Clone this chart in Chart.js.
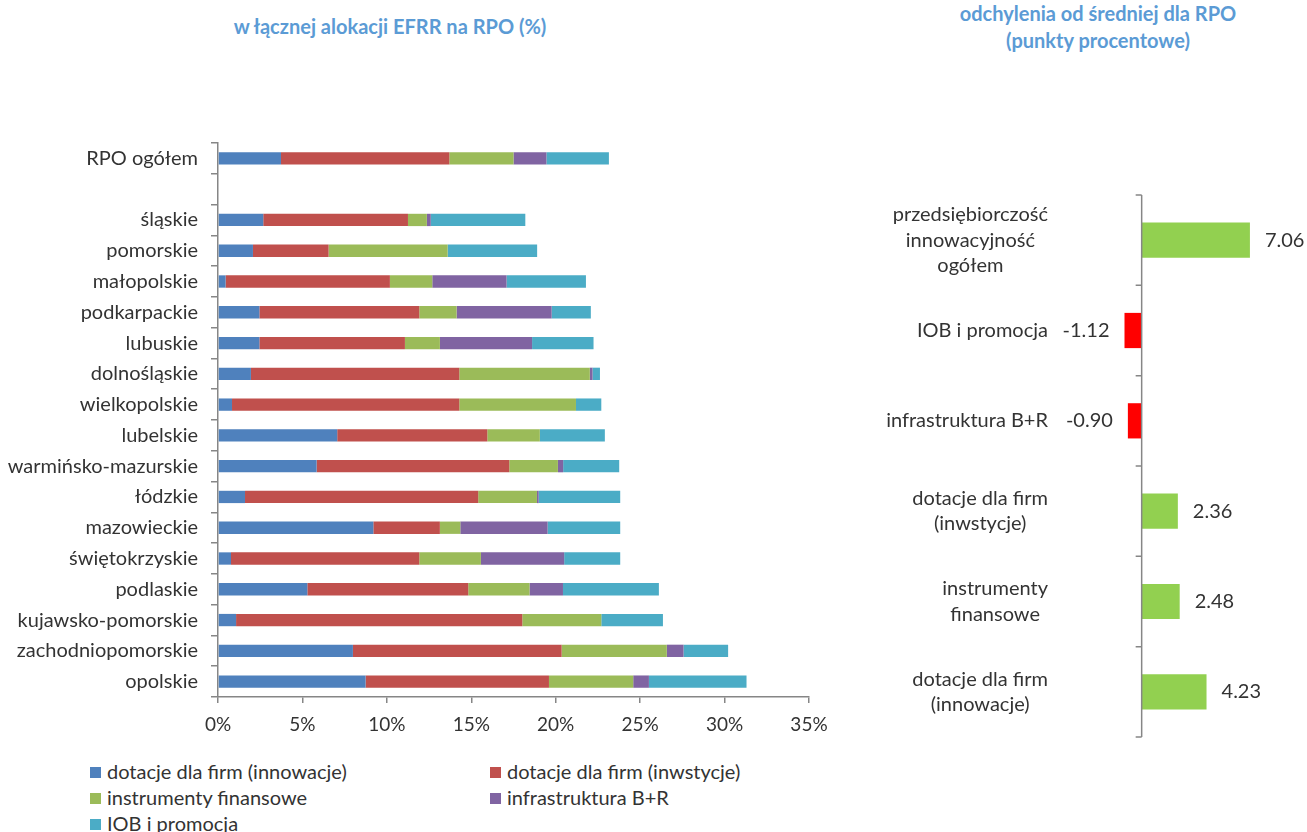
<!DOCTYPE html>
<html>
<head>
<meta charset="utf-8">
<script src="https://cdn.jsdelivr.net/npm/chart.js@4/dist/chart.umd.min.js"></script>
<style>
  body { margin: 0; background: #fff; font-family: Lato, sans-serif; }
  #page { position: relative; width: 1307px; height: 832px; overflow: hidden; }
  .title { position: absolute; color: #5B9BD5; font-weight: bold; font-size: 20px; text-align: center; line-height: 27px; }
  #left-holder { position: absolute; left: 0; top: 118px; width: 840px; height: 627px; }
  #right-holder { position: absolute; left: 860px; top: 180px; width: 447px; height: 580px; }
  .leg { position: absolute; font-size: 20px; color: #333; line-height: 22px; white-space: nowrap; }
  .leg span { display: inline-block; width: 11px; height: 11px; margin-right: 6px; vertical-align: 1px; }
</style>
</head>
<body>
<div id="page">
  <div class="title" style="left:190px; top:13px; width:400px;">w łącznej alokacji EFRR na RPO (%)</div>
  <div class="title" style="left:948px; top:0px; width:300px;">odchylenia od średniej dla RPO<br>(punkty procentowe)</div>
  <div id="left-holder"><canvas id="left"></canvas></div>
  <div id="right-holder"><canvas id="right"></canvas></div>
  <div id="legend"></div>
</div>
<script>
// lewy wykres - udzial w alokacji (%)
const regions = ['RPO ogółem', '', 'śląskie', 'pomorskie', 'małopolskie', 'podkarpackie', 'lubuskie',
  'dolnośląskie', 'wielkopolskie', 'lubelskie', 'warmińsko-mazurskie', 'łódzkie', 'mazowieckie',
  'świętokrzyskie', 'podlaskie', 'kujawsko-pomorskie', 'zachodniopomorskie', 'opolskie'];
const innowacje = [3.73, null, 2.68, 2.07, 0.45, 2.45, 2.45, 1.95, 0.83, 7.06, 5.84, 1.60, 9.20, 0.77, 5.29, 1.07, 7.99, 8.74];
const inwestycje = [9.97, null, 8.57, 4.48, 9.73, 9.47, 8.62, 12.34, 13.46, 8.89, 11.41, 13.81, 3.94, 11.15, 9.53, 16.95, 12.36, 10.86];
const instrumenty = [3.80, null, 1.12, 7.05, 2.51, 2.21, 2.07, 7.73, 6.91, 3.11, 2.88, 3.48, 1.21, 3.65, 3.63, 4.68, 6.23, 4.99];
const infrastruktura = [1.95, null, 0.23, 0, 4.40, 5.63, 5.46, 0.16, 0, 0, 0.31, 0.10, 5.17, 4.93, 1.98, 0, 0.99, 0.93];
const iob = [3.70, null, 5.60, 5.30, 4.70, 2.32, 3.64, 0.44, 1.50, 3.85, 3.32, 4.83, 4.30, 3.32, 5.68, 3.65, 2.64, 5.78];
const seriesNames = ['dotacje dla firm (innowacje)', 'dotacje dla firm (inwstycje)', 'instrumenty finansowe', 'infrastruktura B+R', 'IOB i promocja'];
const seriesColors = ['#4F81BD', '#C0504D', '#9BBB59', '#8064A2', '#4BACC6'];
const xTicks = [0, 5, 10, 15, 20, 25, 30, 35];

// prawy wykres - odchylenia (pp)
const devLabels = [['przedsiębiorczość', 'innowacyjność', 'ogółem'], ['IOB i promocja'], ['infrastruktura B+R'],
  ['dotacje dla firm', '(inwstycje)'], ['instrumenty', 'finansowe'], ['dotacje dla firm', '(innowacje)']];
const devValues = [7.06, -1.12, -0.90, 2.36, 2.48, 4.23];

const axisColor = '#868686';
const textColor = '#333';
const labelFont = { family: 'Lato', size: 20 };
const tickFont = { family: 'Lato', size: 19 };

let seriesData = [innowacje, inwestycje, instrumenty, infrastruktura, iob];
let datasets = seriesData.map((d, i) => ({
  label: seriesNames[i],
  data: d,
  backgroundColor: seriesColors[i],
  borderWidth: 0,
  barPercentage: 0.4,
  categoryPercentage: 1
}));

let leftChart = new Chart(document.getElementById('left').getContext('2d'), {
  type: 'bar',
  data: { labels: regions, datasets: datasets },
  options: {
    indexAxis: 'y',
    responsive: true,
    maintainAspectRatio: false,
    animation: false,
    layout: { padding: { top: 0, right: 31, left: 0, bottom: 0 } },
    plugins: { legend: { display: false }, tooltip: { enabled: false } },
    scales: {
      x: {
        stacked: true, min: 0, max: 35,
        afterBuildTicks: (axis) => { axis.ticks = xTicks.map(v => ({ value: v })); },
        afterFit: (axis) => { axis.height = 48; },
        border: { display: true, color: axisColor, width: 1.5 },
        grid: { drawOnChartArea: false, drawTicks: true, tickLength: 6, color: axisColor, lineWidth: 1.5 },
        ticks: { font: tickFont, color: textColor, padding: 10, maxRotation: 0, callback: v => v + '%' }
      },
      y: {
        stacked: true,
        afterFit: (axis) => { axis.width = 218; },
        border: { display: true, color: axisColor, width: 1.5 },
        grid: { offset: true, drawOnChartArea: false, drawTicks: true, tickLength: 7, color: axisColor, lineWidth: 1.5 },
        ticks: { font: labelFont, color: textColor, padding: 13, autoSkip: false }
      }
    }
  }
});

// legenda w dwoch kolumnach
let legend = document.getElementById('legend');
seriesNames.forEach((name, i) => {
  let el = document.createElement('div');
  el.className = 'leg';
  el.style.left = (i % 2 === 0 ? 90 : 490) + 'px';
  el.style.top = (760 + Math.floor(i / 2) * 26) + 'px';
  el.innerHTML = '<span style="background:' + seriesColors[i] + '"></span>' + name;
  legend.append(el);
});

// os w zerze + etykiety kategorii + wartosci
const devPlugin = {
  id: 'devPlugin',
  afterDatasetsDraw(chart) {
    let ctx = chart.ctx;
    let xs = chart.scales.x;
    let ys = chart.scales.y;
    let area = chart.chartArea;
    let x0 = xs.getPixelForValue(0);
    ctx.save();
    ctx.strokeStyle = axisColor;
    ctx.lineWidth = 1.5;
    ctx.beginPath();
    ctx.moveTo(x0, area.top);
    ctx.lineTo(x0, area.bottom);
    let step = (area.bottom - area.top) / devLabels.length;
    for (let i = 0; i <= devLabels.length; i++) {
      let y = area.top + i * step;
      ctx.moveTo(x0 - 6, y);
      ctx.lineTo(x0, y);
    }
    ctx.stroke();

    ctx.font = '20px Lato';
    ctx.fillStyle = textColor;
    ctx.textBaseline = 'middle';
    ctx.textAlign = 'center';
    let right = area.left - 17;
    let lh = 25.5;
    devLabels.forEach((lines, i) => {
      let w = Math.max(...lines.map(l => ctx.measureText(l).width));
      let cx = right - w / 2;
      let cy = ys.getPixelForValue(i);
      lines.forEach((l, j) => {
        ctx.fillText(l, cx, cy + (j - (lines.length - 1) / 2) * lh);
      });
    });

    let meta = chart.getDatasetMeta(0);
    meta.data.forEach((bar, i) => {
      let v = devValues[i];
      ctx.textAlign = v < 0 ? 'right' : 'left';
      ctx.fillText(v.toFixed(2), bar.x + (v < 0 ? -15 : 15), bar.y);
    });
    ctx.restore();
  }
};

let rightChart = new Chart(document.getElementById('right').getContext('2d'), {
  type: 'bar',
  data: {
    labels: devLabels,
    datasets: [{
      data: devValues,
      backgroundColor: devValues.map(v => v < 0 ? '#FF0000' : '#92D050'),
      borderWidth: 0,
      barPercentage: 0.39,
      categoryPercentage: 1
    }]
  },
  options: {
    indexAxis: 'y',
    responsive: true,
    maintainAspectRatio: false,
    animation: false,
    layout: { padding: { left: 205, right: 12, top: 15, bottom: 23 } },
    plugins: { legend: { display: false }, tooltip: { enabled: false } },
    scales: {
      x: { display: false, min: -5, max: 10 },
      y: { display: false }
    }
  },
  plugins: [devPlugin]
});
</script>
</body>
</html>
